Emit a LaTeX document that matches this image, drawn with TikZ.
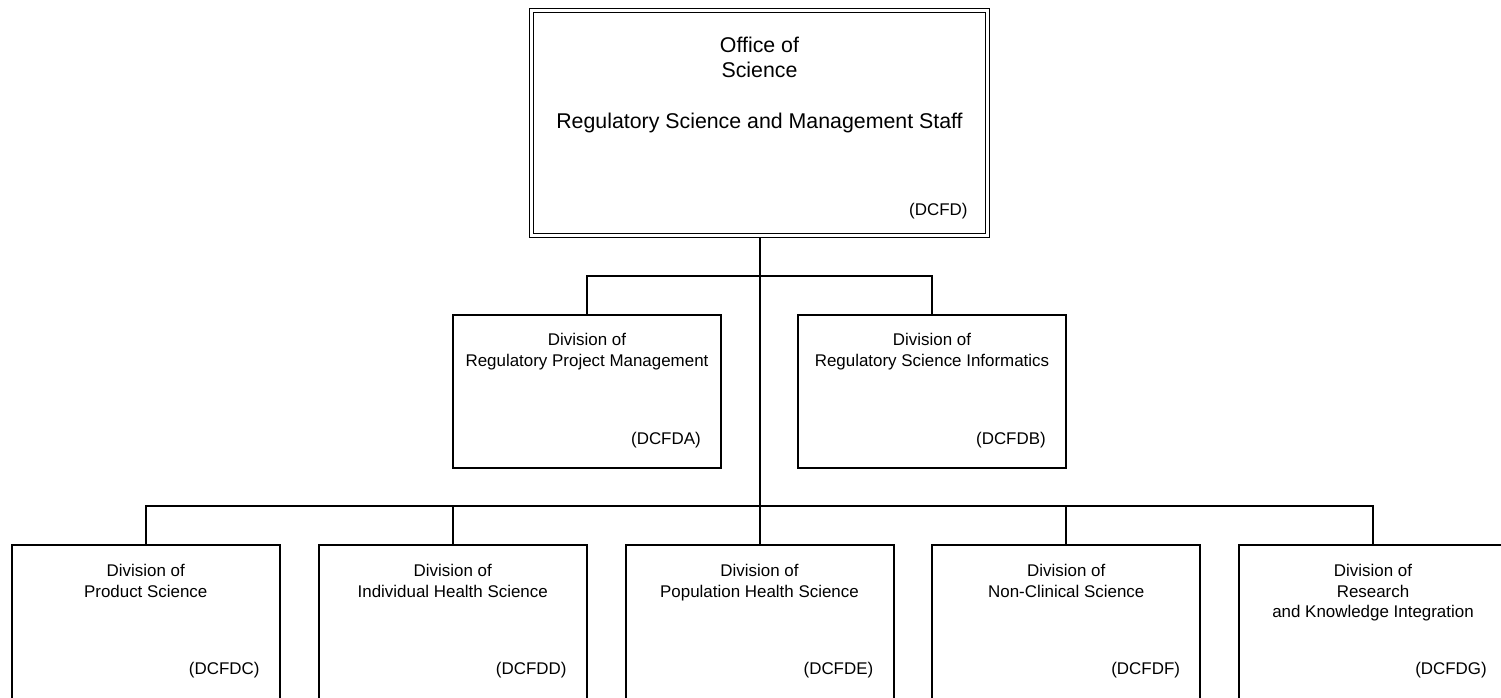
\documentclass[tikz,border=0pt]{standalone}
\usepackage{fontspec}
\setmainfont{Liberation Sans}

\tikzset{
  unitbox/.style={draw, line width=1.5pt, outer sep=0pt, minimum width=201pt, minimum height=114.75pt},
  officebox/.style={draw, double, line width=1pt, double distance=2pt, outer sep=0pt, minimum width=342.4pt, minimum height=168.9pt},
  boxtitle/.style={anchor=north, align=center, inner sep=0pt, font=\fontsize{12.7}{15.3}\selectfont},
  boxcode/.style={anchor=south east, inner sep=0pt, font=\fontsize{12.7}{15.3}\selectfont},
  link/.style={line width=1.5pt},
}

\begin{document}
\begin{tikzpicture}[x=0.75pt, y=-0.75pt]

% page frame (pixel units, y downwards)
\useasboundingbox (0,0) rectangle (1501,697);
\clip (0,0) rectangle (1501,697);

% Office at the top
\node[officebox,
  label={[boxtitle, yshift=-20pt, font=\fontsize{16}{18.75}\selectfont]north:{Office of\\Science\\[19pt]Regulatory Science and Management Staff}},
  label={[boxcode, xshift=-15pt, yshift=12.5pt]south east:(DCFD)}]
  (dcfd) at (759.5,122.9) {};

% Staff divisions
\foreach \n/\x/\txt/\id in {
  dcfda/587/{Division of\\Regulatory Project Management}/DCFDA,
  dcfdb/932/{Division of\\Regulatory Science Informatics}/DCFDB} {
  \node[unitbox,
    label={[boxtitle, yshift=-13.8pt]north:{\txt}},
    label={[boxcode, xshift=-15pt, yshift=15pt]south east:(\id)}]
    (\n) at (\x,391.5) {};
}

% Science divisions (running off the lower edge)
\foreach \n/\x/\txt/\id in {
  dcfdc/145.75/{Division of\\Product Science}/DCFDC,
  dcfdd/452.75/{Division of\\Individual Health Science}/DCFDD,
  dcfde/759.5/{Division of\\Population Health Science}/DCFDE,
  dcfdf/1066.25/{Division of\\Non-Clinical Science}/DCFDF,
  dcfdg/1373/{Division of\\Research\\and Knowledge Integration}/DCFDG} {
  \node[unitbox, minimum height=115.5pt,
    label={[boxtitle, yshift=-14.5pt]north:{\txt}},
    label={[boxcode, xshift=-15pt, yshift=15.5pt]south east:(\id)}]
    (\n) at (\x,622) {};
}

% Connectors
\coordinate (hubA) at (759.5,276);
\coordinate (hubB) at (759.5,506);

\draw[link, shorten <=1.5pt] (dcfd.south) -- (dcfde.north);
\draw[link] (dcfda.north) |- (hubA) -| (dcfdb.north);
\foreach \n in {dcfdc,dcfdd,dcfdf,dcfdg} {
  \draw[link] (\n.north) |- (hubB);
}

\end{tikzpicture}
\end{document}
